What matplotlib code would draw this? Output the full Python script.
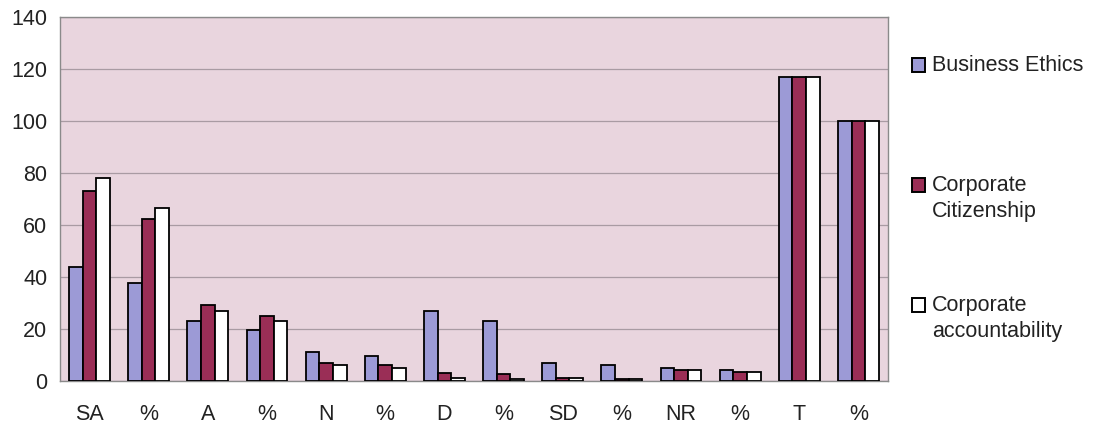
import numpy as np
import matplotlib.pyplot as plt
from matplotlib.patches import Rectangle

plt.rcParams['font.family'] = ['Liberation Sans', 'DejaVu Sans']

categories = ['SA', '%', 'A', '%', 'N', '%', 'D', '%', 'SD', '%', 'NR', '%', 'T', '%']
business_ethics = [44, 37.6, 23, 19.7, 11, 9.4, 27, 23.1, 7, 6.0, 5, 4.3, 117, 100]
corp_citizenship = [73, 62.4, 29, 24.8, 7, 6.0, 3, 2.6, 1, 0.9, 4, 3.4, 117, 100]
corp_accountability = [78, 66.7, 27, 23.1, 6, 5.1, 1, 0.9, 1, 0.9, 4, 3.4, 117, 100]

series = [
    ('Business Ethics', business_ethics, '#9c9ad6'),
    ('Corporate\nCitizenship', corp_citizenship, '#9a2e56'),
    ('Corporate\naccountability', corp_accountability, '#ffffff'),
]

fig = plt.figure(figsize=(10.96, 4.26), dpi=100)
ax = fig.add_axes([0.0547, 0.106, 0.7555, 0.854])
ax.set_facecolor('#e9d5de')

x = np.arange(len(categories))
w = 0.23
for i, (name, vals, color) in enumerate(series):
    ax.bar(x + (i - 1) * w, vals, width=w, color=color, edgecolor='black',
           linewidth=1.3, zorder=3)

ax.set_xlim(-0.5, len(categories) - 0.5)
ax.set_ylim(0, 140)
ax.set_yticks(range(0, 141, 20))
ax.set_xticks(x)
ax.set_xticklabels(categories)
ax.tick_params(axis='both', length=0, labelsize=15.5, colors='#222222')
ax.tick_params(axis='x', pad=17)
ax.tick_params(axis='y', pad=9)
ax.grid(axis='y', color='#a99ba3', linewidth=0.9, zorder=0)
for side in ax.spines.values():
    side.set_color('#8a8a8a')
    side.set_linewidth(1)

# legend drawn by hand so markers line up with first line of text
legend_rows = [65, 185, 305]
for (name, vals, color), ytop in zip(series, legend_rows):
    y0 = 1 - (ytop + 7) / 426
    fig.patches.append(Rectangle((912 / 1096, y0), 13 / 1096, 14 / 426,
                                 transform=fig.transFigure, facecolor=color,
                                 edgecolor='black', linewidth=1.4))
    fig.text(932 / 1096, 1 - (ytop - 10) / 426, name, fontsize=15.5,
             va='top', ha='left', color='#222222', linespacing=1.3)

fig.savefig('out.png', dpi=100, facecolor='white')
